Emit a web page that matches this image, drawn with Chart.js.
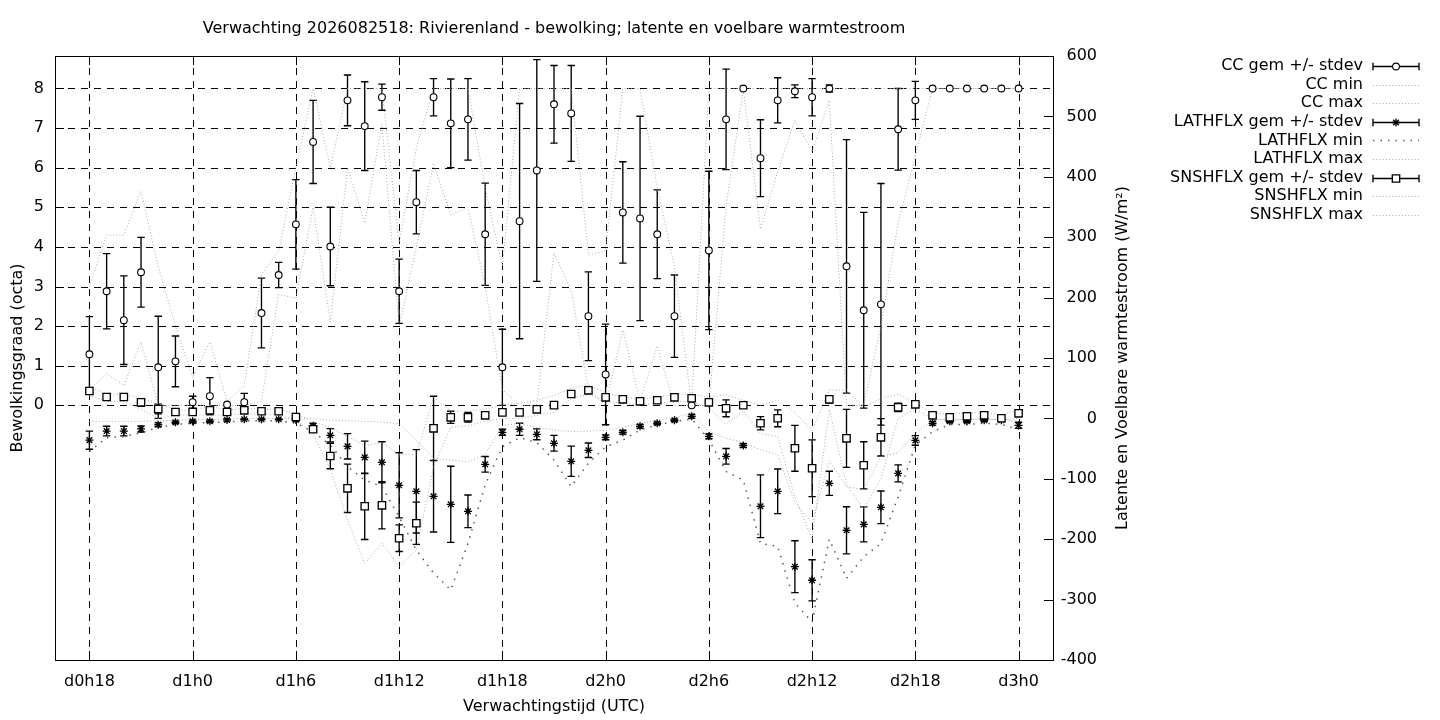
<!DOCTYPE html>
<html><head><meta charset="utf-8">
<script src="https://cdn.jsdelivr.net/npm/chart.js@4.4.1/dist/chart.umd.min.js"></script>
<style>html,body{margin:0;padding:0;background:#fff;}#wrap{width:1440px;height:720px;}</style>
</head><body><div id="wrap"><canvas id="c" width="1440" height="720"></canvas></div>
<script>
// ---------- DATA ----------
const titleText = 'Verwachting 2026082518: Rivierenland - bewolking; latente en voelbare warmtestroom';
const xAxisTitle = 'Verwachtingstijd (UTC)';
const yAxisTitle = 'Bewolkingsgraad (octa)';
const y2AxisTitle = 'Latente en Voelbare warmtestroom (W/m²)';

const hours = [18,19,20,21,22,23,24,25,26,27,28,29,30,31,32,33,34,35,36,37,38,39,40,41,42,43,44,45,46,47,48,49,50,51,52,53,54,55,56,57,58,59,60,61,62,63,64,65,66,67,68,69,70,71,72];
const xTickHours = [18,24,30,36,42,48,54,60,66,72];
const xTickLabels = ['d0h18','d1h0','d1h6','d1h12','d1h18','d2h0','d2h6','d2h12','d2h18','d3h0'];
const yTickValues = [0,1,2,3,4,5,6,7,8];
const y2TickValues = [-400,-300,-200,-100,0,100,200,300,400,500,600];

const ccMean = [1.29,2.88,2.15,3.36,0.96,1.11,0.08,0.23,0.02,0.08,
                2.33,3.29,4.57,6.65,4.01,7.70,7.05,7.78,2.88,5.13,
                7.78,7.12,7.22,4.32,0.96,4.65,5.93,7.60,7.37,2.25,
                0.78,4.87,4.72,4.32,2.25,0.00,3.91,7.22,8.00,6.24,
                7.70,7.93,7.78,8.00,3.51,2.40,2.55,6.97,7.70,8,
                8,8,8,8,8];
const ccSd = [0.95,0.95,1.12,0.88,1.29,0.64,0.15,0.47,0,0.22,
              0.88,0.32,1.13,1.05,0.99,0.64,1.12,0.33,0.81,0.80,
              0.47,1.12,1.03,1.29,0.96,2.97,2.80,0.98,1.21,1.12,
              1.27,1.28,2.58,1.12,1.04,0,2.00,1.27,0,0.97,
              0.57,0.16,0.47,0.09,3.20,2.47,3.05,1.03,0.48,0,
              0,0,0,0,0];
const ccMin = [0.4,0.8,0.5,1.6,0,0,0,0,0,0,
               0.1,2.8,2.7,5.0,2.1,6.0,4.6,7.1,2.0,4.0,
               6.1,4.8,5.0,3.0,0.4,0,0,3.85,2.9,0.4,
               0,1.9,0.1,1.5,0,0,0,5.0,8,4.45,
               5.9,7.2,6.4,7.7,0,0,2.0,4.6,6.3,8,
               8,8,8,8,8];
const ccMax = [3.0,4.3,4.3,5.4,3.5,2.0,0.7,1.6,0.1,0.5,
               3.3,3.9,6.0,8,6.0,8,8,8,4.1,6.5,
               8,8,8,5.5,3.5,8,8,8,8,3.8,
               3.9,8,8,5.5,3.5,0,8,8,8,8,
               8,8,8,8,8,8,8,8,8,8,
               8,8,8,8,8];

const latMean = [-36,-21,-21,-17.5,-10.4,-6.5,-4.8,-4.8,-2.6,-1.5,-1.5,-1.5,-2.6,
                 -13,-28,-46.3,-64.5,-72.7,-110.8,-120.7,-129,-142.2,-153.8,-76,-23,-18,-26.3,-41.2,
                 -71,-52.8,-31.3,-23,-13.1,-8.1,-3.1,3.5,-29.7,-62.8,-45,-145.5,-120.7,-245.5,
                 -268,-107.5,-185.3,-175.4,-147.2,-91,-36.4,-8.1,-4.8,-4.8,-3.1,-3,-11.4];
const latSd = [15,8,8,5,3,2,2,2,2,1,1,1,2,
               5,11,21,27,34,54,69,59,63,27,13,5,10,9,13,
               25,12,4,3,3,2,2,3,4,13,3,52,37,43,
               34,20,39,29,27,14,8,3,2,2,2,2,5];
const latMin = [-55,-32,-30,-24,-15,-10,-8,-7,-6,-4,-4,-4,-8,
                -22,-44,-80,-102,-113,-163,-218,-256,-284,-207,-110,-47,-32,-40,-69,
                -113,-74,-47,-36,-19,-11,-5,-1,-35,-88,-102,-207,-212,-306,
                -337,-200,-265,-229,-207,-130,-44,-22,-10,-10,-8,-10,-18];
const latMax = [-5,-5,-5,-5,-4,-3,-2,-2,-1,0,0,0,-1,
                0,-3,-4,-5,-6,-9,-36,-66,-69,-72,-60,-12,-8,-15,-19,
                -22,-21,-20,-15,-8,-3,2,8,-22,-33,-40,-52,-60,-140,
                -173,-70,-113,-118,-63,-57,-25,-3,-2,-2,-1,-2,-5];

const snsMean = [45.4,35.4,35.4,26.6,15.6,10.6,10.6,13.4,10.6,13.4,11.8,11.8,2.3,
                 -18,-62.3,-115.8,-145.5,-143.9,-198.4,-173.6,-16.4,1.8,1.8,5.1,10,10,15,22,
                 40.4,46.5,34.9,31.6,28.3,30,34.9,33.3,26.6,16.7,21.7,-8.1,0.2,-49.5,
                 -82.6,31.6,-33,-77.6,-31.3,18.3,23.3,5.1,1.8,3.5,5.1,0.2,8.5];
const snsSd = [5,3,3,6,8,2,2,4,2,2,2,2,3,
               4,21,40,55,39,22,35,53,10,8,3,3,3,3,3,
               4,3,3,2,2,2,2,2,3,14,4,11,14,38,
               47,6,48,39,31,7,3,3,3,3,3,2,6];
const snsMin = [38,28,28,15,0,5,6,5,6,8,7,7,-3,
                -25,-85,-168,-240,-207,-245,-218,-80,-15,-12,-5,0,0,5,10,
                33,40,28,25,22,25,28,28,18,-10,12,-25,-30,-130,
                -200,15,-110,-150,-100,0,15,0,-3,-2,0,-3,0];
const snsMax = [52,40,40,33,24,14,14,20,14,17,15,15,8,
                -5,-15,-30,-45,-40,-60,-60,35,12,12,15,22,25,30,38,
                50,55,42,36,32,35,40,40,35,39,30,22,30,10,
                -20,47,47,19,33,40,25,8,8,8,10,5,15];

const legendLabels = ['CC gem +/- stdev','CC min','CC max','LATHFLX gem +/- stdev','LATHFLX min','LATHFLX max','SNSHFLX gem +/- stdev','SNSHFLX min','SNSHFLX max'];

// ---------- STYLES ----------
const FONT = '16px "DejaVu Sans"';
const GRAY = '#a9a9a9';
const DOT = [1,2.2];
const DARK = '#5a5a5a';
const DOT2 = [1.5,6];
const BARW = 1.35;
Chart.defaults.font.family = '"DejaVu Sans"';
Chart.defaults.font.size = 16;
Chart.defaults.color = '#000';

const toXY = arr => hours.map((h,i)=>({x:h, y:arr[i]}));
const lineDs = (arr, axis, color, dash, w) => ({data:toXY(arr), yAxisID:axis, showLine:true, pointRadius:0, borderColor:color, borderWidth:w, borderDash:dash, tension:0, fill:false, order:5});

const errSeries = [
  {mean:ccMean, sd:ccSd, axis:'y'},
  {mean:latMean, sd:latSd, axis:'y2'},
  {mean:snsMean, sd:snsSd, axis:'y2'}
];

function drawMarker(ctx, kind, x, y){
  ctx.save();
  ctx.setLineDash([]);
  ctx.strokeStyle='#000'; ctx.fillStyle='#fff'; ctx.lineWidth=1.1;
  if(kind==='circle'){ctx.beginPath();ctx.arc(x,y,3.4,0,Math.PI*2);ctx.fill();ctx.stroke();}
  else if(kind==='rect'){ctx.lineWidth=1.3;ctx.beginPath();ctx.rect(x-3.7,y-3.7,7.4,7.4);ctx.fill();ctx.stroke();}
  else {ctx.lineWidth=1.3;ctx.beginPath();const r=4,d=r*Math.SQRT1_2;
    ctx.moveTo(x-r,y);ctx.lineTo(x+r,y);ctx.moveTo(x,y-r);ctx.lineTo(x,y+r);
    ctx.moveTo(x-d,y-d);ctx.lineTo(x+d,y+d);ctx.moveTo(x-d,y+d);ctx.lineTo(x+d,y-d);ctx.stroke();}
  ctx.restore();
}

const gnuPlugin = {
  id:'gnu',
  beforeDatasetsDraw(chart){
    const {ctx, chartArea:a, scales} = chart;
    const x = scales.x, y = scales.y;
    ctx.save();
    ctx.strokeStyle='#000'; ctx.lineWidth=1; ctx.setLineDash([7,6]);
    xTickHours.forEach(h=>{const px=Math.round(x.getPixelForValue(h))+0.5;ctx.beginPath();ctx.moveTo(px,a.bottom);ctx.lineTo(px,a.top);ctx.stroke();});
    yTickValues.forEach(v=>{const py=Math.round(y.getPixelForValue(v))+0.5;ctx.beginPath();ctx.moveTo(a.left,py);ctx.lineTo(a.right,py);ctx.stroke();});
    ctx.setLineDash([]);
    // error bars
    ctx.lineWidth=BARW;
    errSeries.forEach(s=>{
      const sc = scales[s.axis];
      hours.forEach((h,i)=>{
        if(!s.sd[i]) return;
        const px = x.getPixelForValue(h);
        const t = sc.getPixelForValue(s.mean[i]+s.sd[i]);
        const b = sc.getPixelForValue(s.mean[i]-s.sd[i]);
        ctx.beginPath();
        ctx.moveTo(px,t);ctx.lineTo(px,b);
        ctx.moveTo(px-3.7,t);ctx.lineTo(px+3.7,t);
        ctx.moveTo(px-3.7,b);ctx.lineTo(px+3.7,b);
        ctx.stroke();
      });
    });
    ctx.restore();
  },
  afterDatasetsDraw(chart){
    const {ctx, chartArea:a, scales} = chart;
    ctx.save();
    ctx.strokeStyle='#000'; ctx.lineWidth=1; ctx.setLineDash([]);
    ctx.strokeRect(Math.round(a.left)+0.5, Math.round(a.top)+0.5, Math.round(a.right-a.left), Math.round(a.bottom-a.top));
    ctx.beginPath();
    y2TickValues.forEach(v=>{const py=Math.round(scales.y2.getPixelForValue(v))+0.5;ctx.moveTo(a.right,py);ctx.lineTo(a.right-9,py);});
    yTickValues.forEach(v=>{const py=Math.round(scales.y.getPixelForValue(v))+0.5;ctx.moveTo(a.left,py);ctx.lineTo(a.left+9,py);});
    xTickHours.forEach(h=>{const px=Math.round(scales.x.getPixelForValue(h))+0.5;ctx.moveTo(px,a.bottom);ctx.lineTo(px,a.bottom-9);ctx.moveTo(px,a.top);ctx.lineTo(px,a.top+9);});
    ctx.stroke();
    ctx.restore();
  },
  afterDraw(chart){
    const {ctx, chartArea:a} = chart;
    const cx=(a.left+a.right)/2, cy=(a.top+a.bottom)/2;
    ctx.save();
    ctx.fillStyle='#000'; ctx.font=FONT; ctx.textAlign='center'; ctx.textBaseline='middle';
    ctx.fillText(titleText, cx, 29);
    ctx.fillText(xAxisTitle, cx, 707);
    ctx.save(); ctx.translate(18,cy); ctx.rotate(-Math.PI/2); ctx.fillText(yAxisTitle,0,0); ctx.restore();
    ctx.save(); ctx.translate(1123,cy); ctx.rotate(-Math.PI/2); ctx.fillText(y2AxisTitle,0,0); ctx.restore();
    // legend
    const kinds = [['err','circle'],['line',GRAY,DOT,1],['line',GRAY,DOT,1],['err','star'],['line',DARK,DOT2,1.5],['line',GRAY,DOT,1],['err','rect'],['line',GRAY,DOT,1],['line',GRAY,DOT,1]];
    const x0=1373, x1=1419, tx=1363;
    legendLabels.forEach((lab,i)=>{
      const yy = 66 + i*18.6;
      ctx.textAlign='right'; ctx.fillStyle='#000';
      ctx.fillText(lab, tx, yy);
      const k = kinds[i];
      const py = Math.round(yy)+0.5;
      if(k[0]==='err'){
        ctx.setLineDash([]); ctx.strokeStyle='#000'; ctx.lineWidth=BARW;
        ctx.beginPath(); ctx.moveTo(x0,py);ctx.lineTo(x1,py);
        ctx.moveTo(x0,py-3.7);ctx.lineTo(x0,py+3.7);ctx.moveTo(x1,py-3.7);ctx.lineTo(x1,py+3.7);ctx.stroke();
        drawMarker(ctx,k[1],(x0+x1)/2,py);
      } else {
        ctx.setLineDash(k[2]); ctx.strokeStyle=k[1]; ctx.lineWidth=k[3];
        ctx.beginPath(); ctx.moveTo(x0,py);ctx.lineTo(x1,py);ctx.stroke();
      }
    });
    ctx.restore();
  }
};

new Chart(document.getElementById('c'), {
  type:'scatter',
  data:{datasets:[
    {label:legendLabels[6], data:toXY(snsMean), yAxisID:'y2', showLine:false, pointStyle:'rect', pointRadius:5.2, pointBorderWidth:1.3, pointBorderColor:'#000', pointBackgroundColor:'#fff', order:0},
    {label:legendLabels[3], data:toXY(latMean), yAxisID:'y2', showLine:false, pointStyle:'star', pointRadius:4, pointBorderWidth:1.3, pointBorderColor:'#000', pointBackgroundColor:'#000', order:1},
    {label:legendLabels[0], data:toXY(ccMean), yAxisID:'y', showLine:false, pointStyle:'circle', pointRadius:3.4, pointBorderWidth:1.1, pointBorderColor:'#000', pointBackgroundColor:'#fff', order:2},
    Object.assign(lineDs(ccMin,'y',GRAY,DOT,1),{label:legendLabels[1]}),
    Object.assign(lineDs(ccMax,'y',GRAY,DOT,1),{label:legendLabels[2]}),
    Object.assign(lineDs(latMin,'y2',DARK,DOT2,1.5),{label:legendLabels[4]}),
    Object.assign(lineDs(latMax,'y2',GRAY,DOT,1),{label:legendLabels[5]}),
    Object.assign(lineDs(snsMin,'y2',GRAY,DOT,1),{label:legendLabels[7]}),
    Object.assign(lineDs(snsMax,'y2',GRAY,DOT,1),{label:legendLabels[8]})
  ]},
  options:{
    responsive:false, animation:false, devicePixelRatio:1,
    layout:{padding:{left:0,top:56,right:343,bottom:0}, autoPadding:false},
    plugins:{legend:{display:false}, tooltip:{enabled:false}, title:{display:false}},
    scales:{
      x:{type:'linear', position:'bottom', min:16, max:74,
         afterBuildTicks:s=>{s.ticks = xTickHours.map(v=>({value:v}));},
         afterFit:s=>{s.height=60;},
         grid:{display:false, drawTicks:false}, border:{display:false},
         ticks:{padding:12, autoSkip:false, maxRotation:0, color:'#000', font:{size:16},
                callback:v=>xTickLabels[xTickHours.indexOf(v)]}},
      y:{type:'linear', position:'left', min:-6.43, max:8.82,
         afterBuildTicks:s=>{s.ticks = yTickValues.map(v=>({value:v}));},
         afterFit:s=>{s.width=55;},
         grid:{display:false, drawTicks:false}, border:{display:false},
         ticks:{padding:11, color:'#000', font:{size:16}}},
      y2:{type:'linear', position:'right', min:-400, max:600,
         afterBuildTicks:s=>{s.ticks = y2TickValues.map(v=>({value:v}));},
         afterFit:s=>{s.width=44;},
         grid:{display:false, drawTicks:false}, border:{display:false},
         ticks:{padding:8, crossAlign:'far', color:'#000', font:{size:16}}}
    }
  },
  plugins:[gnuPlugin]
});
</script>
</body></html>
